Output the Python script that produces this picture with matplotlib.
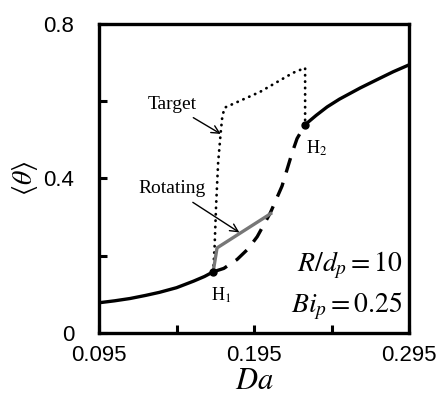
import numpy as np
import matplotlib
matplotlib.use("Agg")
import matplotlib.pyplot as plt

plt.rcParams['mathtext.fontset'] = 'stix'

# stable lower branch (solid)
da_low = [0.095, 0.105, 0.115, 0.125, 0.134, 0.145, 0.156, 0.163, 0.1686]
th_low = [0.078, 0.083, 0.089, 0.097, 0.105, 0.117, 0.134, 0.146, 0.158]

# unstable branch (dashed)
da_mid = [0.1686, 0.1755, 0.184, 0.191, 0.197, 0.2055, 0.213, 0.2195, 0.2227, 0.2279]
th_mid = [0.158, 0.167, 0.190, 0.217, 0.249, 0.311, 0.380, 0.466, 0.503, 0.539]

# stable upper branch (solid)
da_up = [0.2279, 0.235, 0.2421, 0.25, 0.2634, 0.275, 0.2847, 0.295]
th_up = [0.539, 0.563, 0.585, 0.605, 0.634, 0.657, 0.676, 0.694]

# target pattern (dotted)
da_tgt = [0.1686, 0.1695, 0.1705, 0.1718, 0.1735, 0.1745, 0.176, 0.1989, 0.220, 0.2279, 0.2279]
th_tgt = [0.158, 0.22, 0.33, 0.44, 0.52, 0.56, 0.583, 0.624, 0.673, 0.686, 0.539]

# rotating pattern (gray)
da_rot = [0.1686, 0.1711, 0.2066]
th_rot = [0.158, 0.220, 0.311]

# Hopf points
da_h = [0.1686, 0.2279]
th_h = [0.158, 0.539]

fig = plt.figure(figsize=(4.4, 4.04), dpi=100)
ax = fig.add_axes([0.225, 0.176, 0.705, 0.765])

ax.plot(da_low, th_low, color='black', lw=2.4, solid_capstyle='butt')
ax.plot(da_up, th_up, color='black', lw=2.4, solid_capstyle='butt')
ax.plot(da_mid, th_mid, color='black', lw=2.4, linestyle=(0, (4.5, 3.2)))
ax.plot(da_tgt, th_tgt, color='black', lw=2.0, linestyle=(0, (0.1, 2.2)),
        dash_capstyle='round')
ax.plot(da_rot, th_rot, color='#777777', lw=2.4, solid_capstyle='butt')
ax.plot(da_h, th_h, 'o', color='black', ms=5)

serif = 'Liberation Serif'
ax.annotate('Target', xy=(0.1735, 0.515), xytext=(0.142, 0.59),
            fontsize=14, family=serif, ha='center', va='center',
            arrowprops=dict(arrowstyle='->', color='black', lw=1.0,
                            shrinkA=2, shrinkB=0))
ax.annotate('Rotating', xy=(0.1855, 0.26), xytext=(0.142, 0.373),
            fontsize=14, family=serif, ha='center', va='center',
            arrowprops=dict(arrowstyle='->', color='black', lw=1.0,
                            shrinkA=3, shrinkB=0))
ax.text(0.1735, 0.098, r'H$_1$', fontsize=13, family=serif, ha='center', va='center')
ax.text(0.2352, 0.478, r'H$_2$', fontsize=13, family=serif, ha='center', va='center')
ax.text(0.291, 0.175, r'$R/d_p = 10$', fontsize=20, ha='right', va='center')
ax.text(0.291, 0.07, r'$Bi_p = 0.25$', fontsize=20, ha='right', va='center')

ax.set_xlim(0.095, 0.295)
ax.set_ylim(0, 0.8)
ax.set_xticks([0.095, 0.145, 0.195, 0.245, 0.295])
ax.set_xticklabels(['0.095', '', '0.195', '', '0.295'])
ax.set_yticks([0, 0.2, 0.4, 0.6, 0.8])
ax.set_yticklabels(['0', '', '0.4', '', '0.8'])
ax.tick_params(direction='in', length=6, width=2.2, labelsize=16, pad=9)
ax.tick_params(axis='y', pad=18)
for lab in ax.get_xticklabels() + ax.get_yticklabels():
    lab.set_family('Liberation Sans')
for s in ax.spines.values():
    s.set_linewidth(2.4)

ax.set_xlabel(r'$Da$', fontsize=22, labelpad=0)
ax.set_ylabel(r'$\langle\theta\rangle$', fontsize=20, labelpad=2)

fig.savefig('out.png', dpi=100)
